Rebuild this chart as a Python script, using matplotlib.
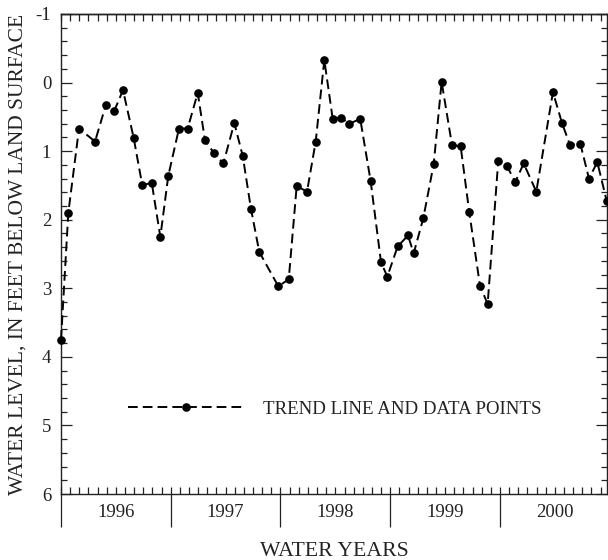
import matplotlib
matplotlib.use("Agg")
import matplotlib.pyplot as plt
from matplotlib.ticker import MultipleLocator, FixedLocator, NullFormatter

# Months since start of water year 1996 (Oct 1, 1995)
months = [0.00, 0.80, 1.97, 3.72, 4.92, 5.83, 6.78, 7.95, 8.89, 9.92,
          10.86, 11.73, 12.90, 13.85, 14.95, 15.74, 16.73, 17.75, 18.95, 19.87,
          20.77, 21.68, 23.76, 24.90, 25.77, 26.90, 27.85, 28.79, 29.71, 30.61,
          31.52, 32.72, 33.86, 34.99, 35.68, 36.81, 37.94, 38.56, 39.61, 40.75,
          41.62, 42.75, 43.70, 44.64, 45.81, 46.65, 47.81, 48.73, 49.67, 50.59,
          51.97, 53.79, 54.78, 55.65, 56.78, 57.73, 58.64, 59.67]
# Water level, feet below land surface
levels = [3.75, 1.90, 0.67, 0.86, 0.32, 0.41, 0.11, 0.81, 1.50, 1.46,
          2.25, 1.36, 0.67, 0.67, 0.15, 0.84, 1.03, 1.18, 0.59, 1.07,
          1.84, 2.47, 2.97, 2.87, 1.51, 1.59, 0.86, -0.33, 0.53, 0.51,
          0.60, 0.53, 1.44, 2.62, 2.83, 2.39, 2.23, 2.49, 1.98, 1.19,
          -0.01, 0.91, 0.93, 1.89, 2.96, 3.23, 1.14, 1.21, 1.45, 1.18,
          1.59, 0.14, 0.59, 0.91, 0.89, 1.40, 1.16, 1.73]

water_years = ["1996", "1997", "1998", "1999", "2000"]
year_starts = [0, 12, 24, 36, 48]
y_ticks = [-1, 0, 1, 2, 3, 4, 5, 6]

SERIF = ["Liberation Serif", "DejaVu Serif"]
TXT = "#222222"

fig = plt.figure(figsize=(6.08, 5.60), dpi=100)
ax = fig.add_axes([61/608, 66/560, 546/608, 480/560])

line, = ax.plot(months, levels, color="black", lw=1.4, marker="o", ms=5.2,
                mfc="black", mec="black", label="TREND LINE AND DATA POINTS",
                clip_on=False, zorder=3)
line.set_dashes((5.0, 2.6))

ax.set_xlim(0, 59.7)
ax.set_ylim(6, -1)

for s in ax.spines.values():
    s.set_linewidth(1.0)
    s.set_color("#222222")

# y axis ticks
ax.yaxis.set_major_locator(FixedLocator(y_ticks))
ax.yaxis.set_minor_locator(MultipleLocator(0.2))
ax.set_yticklabels([str(v) for v in y_ticks], fontfamily=SERIF, fontsize=13.5, color=TXT)
ax.tick_params(axis="y", which="major", direction="in", length=8, width=0.9,
               left=True, right=True, pad=7, colors="#222222")
ax.tick_params(axis="y", which="minor", direction="in", length=4, width=0.9,
               left=True, right=True, colors="#222222")

# bottom x axis: monthly inward ticks, long outward year dividers
ax.xaxis.set_major_locator(FixedLocator(year_starts))
ax.xaxis.set_minor_locator(MultipleLocator(1))
ax.xaxis.remove_overlapping_locs = False
ax.xaxis.set_major_formatter(NullFormatter())
ax.tick_params(axis="x", which="major", direction="out", length=24, width=0.9,
               bottom=True, top=False, colors="#222222")
ax.tick_params(axis="x", which="minor", direction="in", length=4.8, width=0.9,
               bottom=True, top=False, colors="#222222")

# top axis: monthly inward ticks
sec = ax.secondary_xaxis("top")
sec.xaxis.set_major_locator(MultipleLocator(1))
sec.xaxis.set_major_formatter(NullFormatter())
sec.tick_params(axis="x", which="major", direction="in", length=4.8, width=0.9,
                colors="#222222")
sec.spines["top"].set_linewidth(1.0)

# year labels centered in each water year
for start, lab in zip(year_starts, water_years):
    ax.text(start + 6, -0.038, lab, transform=ax.get_xaxis_transform(),
            ha="center", va="center", fontfamily=SERIF, fontsize=13.5, color=TXT)

fig.text(18/608, 1 - 254/560, "WATER LEVEL, IN FEET BELOW LAND SURFACE",
         rotation=90, ha="center", va="center", fontfamily=SERIF, fontsize=15.5, color=TXT)
fig.text(334/608, 1 - 551/560, "WATER YEARS", ha="center", va="center",
         fontfamily=SERIF, fontsize=15.7, color=TXT)

leg = ax.legend(loc="center left", bbox_to_anchor=(0.1227, 0.177), frameon=False,
                handlelength=6.1, handletextpad=1.06, borderpad=0, borderaxespad=0,
                numpoints=1, prop={"family": SERIF, "size": 13.6})
for t in leg.get_texts():
    t.set_color(TXT)

fig.savefig("out.png", dpi=100)
